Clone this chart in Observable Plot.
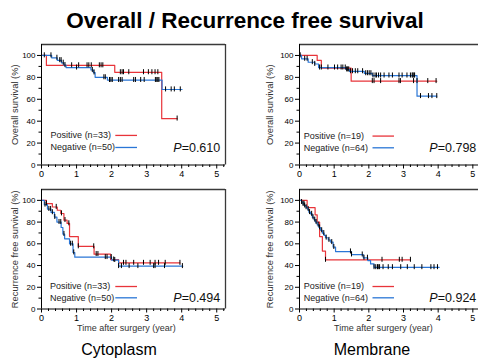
<!DOCTYPE html>
<html><head><meta charset="utf-8">
<script src="https://cdn.jsdelivr.net/npm/d3@7"></script>
<script src="https://cdn.jsdelivr.net/npm/@observablehq/plot@0.6"></script>
<style>
html,body{margin:0;padding:0;background:#fff;}
#root{position:relative;width:478px;height:363px;overflow:hidden;font-family:"Liberation Sans",Arial,sans-serif;color:#000;}
.abs{position:absolute;}
.title{left:12px;width:466px;top:8px;text-align:center;font-size:22.5px;font-weight:bold;line-height:26px;}
.grp{font-size:16px;line-height:18px;top:341px;width:160px;text-align:center;}
</style></head><body><div id="root"></div>
<script>
// ---- labels ----
const chartTitle = "Overall / Recurrence free survival";
const groups = ["Cytoplasm", "Membrane"];
const endpoints = ["Overall survival (%)", "Recurrence free survival (%)"];
const xAxisTitle = "Time after surgery (year)";
const years = [0, 1, 2, 3, 4, 5];
const pctTicks = [0, 20, 40, 60, 80, 100];
const nPositive = [33, 19];
const nNegative = [50, 64];
const pValues = ["0.610", "0.798", "0.494", "0.924"];

// ---- Cytoplasm, overall survival ----
const cytoOS_posT = [0, 0.14, 2.09, 3.43, 3.87];
const cytoOS_posS = [100, 90.9, 84.6, 42.3, 42.3];
const cytoOS_posCens = [0.86, 1.06, 1.30, 1.35, 1.42, 1.65, 1.70, 1.75, 2.25, 2.30, 2.34, 2.49, 2.91, 3.05, 3.15, 3.24, 3.32, 3.87];
const cytoOS_negT = [0, 0.29, 0.45, 0.57, 0.64, 0.70, 1.41, 1.48, 1.53, 1.88, 3.44, 4.01];
const cytoOS_negS = [100, 97.8, 95.6, 93.3, 91.1, 88.9, 86.7, 84.4, 80.0, 77.5, 68.9, 68.9];
const cytoOS_negCens = [0.08, 0.27, 0.44, 0.52, 0.56, 0.62, 0.67, 1.00, 1.45, 1.50, 1.78, 1.82, 1.94, 1.98, 2.02, 2.20, 2.25, 2.30, 2.63, 2.68, 2.83, 2.93, 3.25, 3.29, 3.32, 3.35, 3.54, 3.70, 3.79, 3.96];

// ---- Membrane, overall survival ----
const membOS_posT = [0, 0.51, 0.63, 1.49, 3.96];
const membOS_posS = [100, 95.5, 88.4, 76.5, 76.5];
const membOS_posCens = [2.10, 2.15, 2.34, 2.87, 2.91, 3.29, 3.39, 3.70, 3.94];
const membOS_negT = [0, 0.06, 0.25, 0.44, 0.55, 1.34, 1.44, 1.87, 2.10, 3.39, 3.96];
const membOS_negS = [100, 96.9, 93.8, 92.2, 88.9, 87.2, 85.5, 83.7, 81.6, 62.8, 62.8];
const membOS_negCens = [0.02, 0.15, 0.22, 0.37, 0.44, 0.58, 0.63, 0.82, 1.01, 1.10, 1.20, 1.25, 1.32, 1.36, 1.39, 1.42, 1.47, 1.53, 1.61, 1.68, 1.82, 1.91, 1.96, 2.01, 2.06, 2.12, 2.18, 2.22, 2.28, 2.34, 2.44, 2.58, 2.68, 2.87, 2.96, 3.10, 3.20, 3.25, 3.27, 3.30, 3.32, 3.49, 3.72, 3.82, 3.96];

// ---- Cytoplasm, recurrence free survival ----
const cytoRFS_posT = [0, 0.14, 0.31, 0.45, 0.55, 0.64, 0.73, 0.80, 1.05, 1.50, 1.97, 2.20, 3.95];
const cytoRFS_posS = [100, 97.0, 93.9, 90.9, 87.9, 81.8, 78.8, 66.7, 57.6, 50.5, 45.5, 42.4, 42.4];
const cytoRFS_posCens = [0.14, 0.42, 0.57, 0.67, 0.78, 1.05, 1.49, 1.56, 1.61, 2.06, 2.34, 2.41, 2.63, 2.91, 3.10, 3.24, 3.34, 3.53, 3.95];
const cytoRFS_negT = [0, 0.08, 0.17, 0.27, 0.37, 0.44, 0.56, 0.61, 0.66, 0.80, 0.90, 0.95, 2.00, 2.20, 4.03];
const cytoRFS_negS = [100, 96.0, 92.0, 89.0, 84.6, 80.0, 75.0, 69.0, 64.6, 60.0, 52.0, 47.7, 45.0, 39.4, 39.4];
const cytoRFS_negCens = [0.10, 0.21, 0.26, 0.31, 0.38, 0.50, 0.55, 0.64, 0.83, 0.88, 0.92, 1.82, 1.87, 1.99, 2.09, 2.20, 2.28, 2.50, 2.75, 3.20, 3.24, 3.51, 4.02];

// ---- Membrane, recurrence free survival ----
const membRFS_posT = [0, 0.22, 0.45, 0.51, 0.58, 0.66, 0.75, 3.20];
const membRFS_posS = [100, 93.3, 86.7, 80.0, 66.7, 53.3, 45.2, 45.2];
const membRFS_posCens = [0.75, 2.38, 2.88, 2.96, 3.20];
const membRFS_negT = [0, 0.06, 0.10, 0.14, 0.19, 0.23, 0.27, 0.32, 0.37, 0.42, 0.46, 0.51, 0.56, 0.61, 0.66, 0.71, 0.75, 0.83, 0.90, 0.97, 1.04, 1.50, 1.84, 1.97, 2.05, 2.15, 4.03];
const membRFS_negS = [100, 98.4, 96.8, 95.2, 93.6, 92.0, 89.1, 87.5, 84.4, 82.2, 80.0, 77.5, 75.0, 72.4, 69.8, 67.7, 65.6, 63.5, 61.5, 57.0, 52.9, 50.1, 47.1, 44.6, 41.5, 38.4, 38.4];
const membRFS_negCens = [0.06, 0.10, 0.13, 0.15, 0.19, 0.25, 0.29, 0.35, 0.39, 0.44, 0.48, 0.54, 0.58, 0.64, 0.70, 0.77, 0.85, 0.93, 0.99, 1.47, 1.50, 1.81, 1.86, 1.96, 2.15, 2.20, 2.25, 2.27, 2.31, 2.41, 2.56, 2.68, 2.92, 3.11, 3.31, 3.53, 3.79, 3.88, 3.98];

// ---- drawing ----
const RED = "#e8343a", BLUE = "#2a76d6", FONT = "'Liberation Sans', Arial, sans-serif";
function survAt(T, S, t) { let s = S[0]; for (let i = 0; i < T.length; i++) if (T[i] <= t + 1e-9) s = S[i]; return s; }
function pts(T, S) { return T.map((t, i) => ({t, s: S[i]})); }
function cens(T, S, C) { return C.map(t => ({t, s: survAt(T, S, t)})); }

const panels = [
  {left: 0, top: 40, height: 141, mb: 16.5, plotW: 184, ylab: endpoints[0], ydx: -26, xlab: false, gi: 0, p: pValues[0],
   pos: [cytoOS_posT, cytoOS_posS, cytoOS_posCens], neg: [cytoOS_negT, cytoOS_negS, cytoOS_negCens], legX: 0.26, legY: [27.0, 16.0], pY: 15.7},
  {left: 258, top: 40, height: 141, mb: 16.5, plotW: 182, ylab: endpoints[0], ydx: -29, xlab: false, gi: 1, p: pValues[1],
   pos: [membOS_posT, membOS_posS, membOS_posCens], neg: [membOS_negT, membOS_negS, membOS_negCens], legX: 0.12, legY: [26.4, 15.7], pY: 15.7},
  {left: 0, top: 185, height: 149, mb: 25.5, plotW: 184, ylab: endpoints[1], ydx: -26, xlab: true, gi: 0, p: pValues[2],
   pos: [cytoRFS_posT, cytoRFS_posS, cytoRFS_posCens], neg: [cytoRFS_negT, cytoRFS_negS, cytoRFS_negCens], legX: 0.24, legY: [20.7, 10.3], pY: 10.3},
  {left: 258, top: 185, height: 149, mb: 25.5, plotW: 182, ylab: endpoints[1], ydx: -29, xlab: true, gi: 1, p: pValues[3],
   pos: [membRFS_posT, membRFS_posS, membRFS_posCens], neg: [membRFS_negT, membRFS_negS, membRFS_negCens], legX: 0.12, legY: [20.7, 10.3], pY: 10.3}
];

const root = document.getElementById("root");
const t = document.createElement("div"); t.className = "abs title"; t.textContent = chartTitle; root.appendChild(t);
[[39, groups[0]], [292, groups[1]]].forEach(([l, g]) => {
  const d = document.createElement("div"); d.className = "abs grp"; d.style.left = (l) + "px"; d.textContent = g; root.appendChild(d);
});

const minorX = d3.range(1, 27).map(i => i * 0.2).filter(v => Math.abs(v - Math.round(v)) > 1e-6 && v <= 5.25);
const minorY = [10, 30, 50, 70, 90];

panels.forEach(cfg => {
  const [pT, pS, pC] = cfg.pos, [nT, nS, nC] = cfg.neg;
  const censAll = cens(pT, pS, pC).concat(cens(nT, nS, nC));
  const legend = [
    {label: `Positive (n=${nPositive[cfg.gi]})`, y: cfg.legY[0], c: RED},
    {label: `Negative (n=${nNegative[cfg.gi]})`, y: cfg.legY[1], c: BLUE}
  ];
  const marks = [
    Plot.ruleY([110], {stroke: "#3a3a3a", strokeWidth: 1.3}),
    Plot.ruleX([5.25], {stroke: "#3a3a3a", strokeWidth: 1.3}),
    Plot.line(pts(pT, pS), {x: "t", y: "s", curve: "step-after", stroke: RED, strokeWidth: 1.2}),
    Plot.line(pts(nT, nS), {x: "t", y: "s", curve: "step-after", stroke: BLUE, strokeWidth: 1.2}),
    Plot.ruleX(censAll, {x: "t", y1: d => d.s - 2.2, y2: d => d.s + 2.4, stroke: "#000", strokeWidth: 1}),
    Plot.axisY({ticks: pctTicks, tickSize: 4, tickPadding: 2, fontSize: 8, label: null, tickFormat: d => String(d)}),
    Plot.axisY({ticks: minorY, tickSize: 2.5, text: null, label: null}),
    Plot.axisX({ticks: years, tickSize: 4, tickPadding: 1.5, fontSize: 9, label: null, tickFormat: d => String(d)}),
    Plot.axisX({ticks: minorX, tickSize: 2.5, text: null, label: null}),
    Plot.ruleX([0], {stroke: "#000", strokeWidth: 1}),
    Plot.ruleY([0], {stroke: "#000", strokeWidth: 1}),
    Plot.text([cfg.ylab], {frameAnchor: "left", textAnchor: "middle", rotate: -90, dx: cfg.ydx, fontSize: 9.3, fill: "#333"}),
    Plot.text(legend, {x: cfg.legX, y: "y", text: "label", textAnchor: "start", fontSize: 9, fill: "#222"}),
    Plot.ruleY(legend, {x1: 2.12, x2: 2.74, y: "y", stroke: "c", strokeWidth: 1.3}),
    Plot.text([`P=${cfg.p}`], {x: 5.1, y: cfg.pY, textAnchor: "end", fontSize: 12.5, fill: "#111"})
  ];
  if (cfg.xlab) marks.push(Plot.text([xAxisTitle], {x: 2.42, frameAnchor: "bottom", dy: 21.5, fontSize: 9, fill: "#333"}));
  const svg = Plot.plot({
    width: 240, height: cfg.height,
    marginLeft: 41, marginRight: 240 - 41 - cfg.plotW, marginTop: 4, marginBottom: cfg.mb,
    x: {domain: [0, 5.25], axis: null},
    y: {domain: [0, 110], axis: null},
    color: {type: "identity"},
    style: {fontFamily: FONT, background: "transparent", overflow: "visible", color: "#000"},
    marks
  });
  svg.querySelectorAll("text").forEach(el => {
    if (el.textContent.startsWith("P=")) {
      const rest = el.textContent.slice(1);
      el.textContent = "";
      const ns = "http://www.w3.org/2000/svg";
      const a = document.createElementNS(ns, "tspan"); a.setAttribute("font-style", "italic"); a.textContent = "P";
      const b = document.createElementNS(ns, "tspan"); b.textContent = rest;
      el.appendChild(a); el.appendChild(b);
    }
  });
  svg.style.position = "absolute";
  svg.style.left = cfg.left + "px";
  svg.style.top = cfg.top + "px";
  root.appendChild(svg);
});
</script></body></html>
